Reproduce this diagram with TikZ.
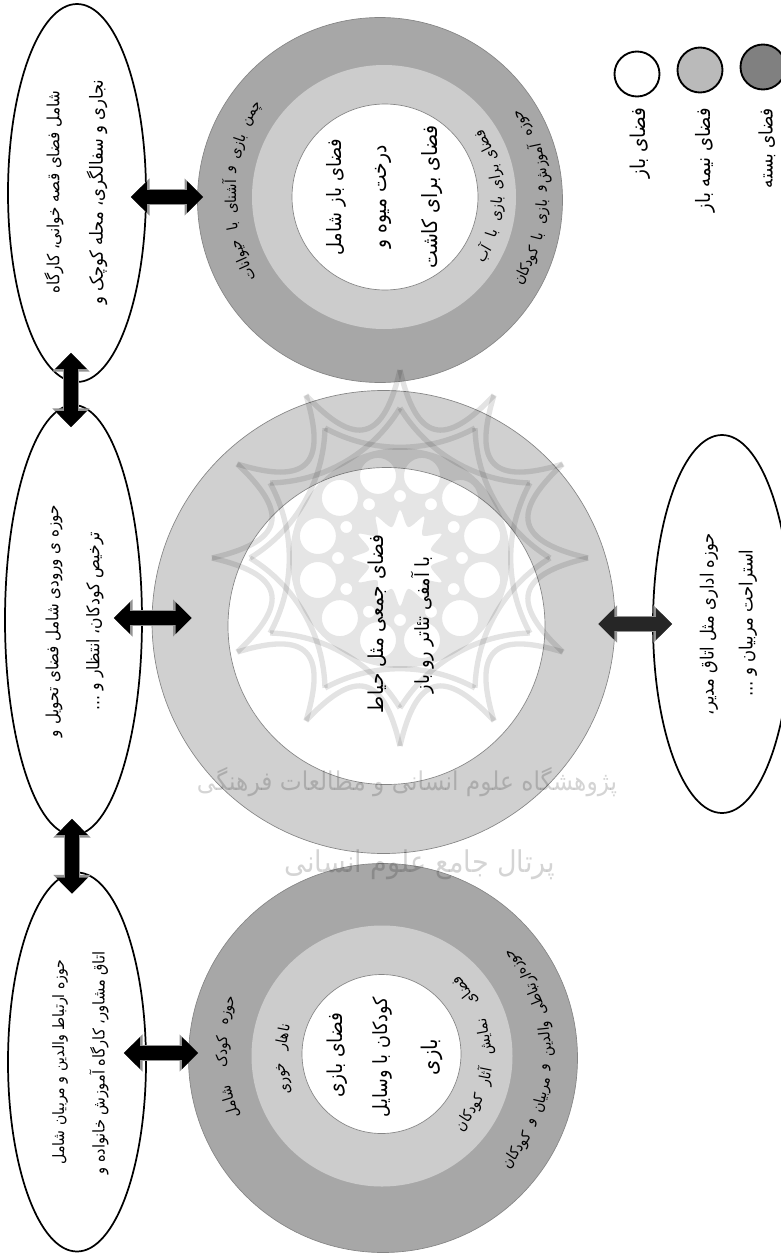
\documentclass[tikz,border=0pt]{standalone}
\usepackage{fontspec}
\usepackage{graphicx}
\usetikzlibrary{shapes.geometric,arrows.meta,calc}
\TeXXeTstate=1
\newfontfamily\arabicfont[Script=Arabic]{DejaVu Sans Condensed}
\newdimen\pxu \pxu=0.75pt
\newcommand\fit[2]{\resizebox{#1\pxu}{!}{\arabicfont #2}}
\newcommand\wrd[1]{{\arabicfont\fontsize{11.3}{13}\selectfont\beginR #1\endR}}
\definecolor{ringdark}{gray}{0.655}
\definecolor{ringmid}{gray}{0.80}
\definecolor{ringsolo}{gray}{0.815}
\definecolor{ringedge}{gray}{0.52}
\tikzset{
  disc/.style={circle,draw=ringedge,line width=0.5pt,inner sep=0pt,minimum size=#1*0.75pt},
  oval/.style={ellipse,draw=black,line width=1.3pt,inner sep=0pt},
  legend disc/.style={circle,draw=black,line width=1.4pt,inner sep=0pt,minimum size=45*0.75pt},
  lab/.style={rotate=90,inner sep=0pt,text=black},
  wmline/.style={draw=black,opacity=0.11,line width=4pt,line join=miter},
  wmfill/.style={fill=black,opacity=0.10,even odd rule},
  wmtext/.style={inner sep=0pt,text=black,opacity=0.17},
  bigarrow/.style={
    preaction={draw=gray!85,line width=11.5pt,
      {Triangle[length=14pt,width=27pt]}-{Triangle[length=14pt,width=27pt]}},
    draw=#1,line width=10pt,
    {Triangle[length=12pt,width=23pt,color=#1]}-{Triangle[length=12pt,width=23pt,color=#1]}},
  bigarrow/.default=black
}
\begin{document}
\begin{tikzpicture}[x=0.75pt,y=-0.75pt]
\useasboundingbox (0,0) rectangle (781,1253);
\clip (0,0) rectangle (781,1253);

% top rings
\node[disc=365,fill=ringdark] (r1o) at (380,200) {};
\node[disc=264,fill=ringmid,draw=none] (r1m) at (384,197) {};
\node[disc=186,fill=white] (r1i) at (385,197) {};
% centre rings
\node[disc=463,fill=ringsolo] (r2o) at (383.5,622) {};
\node[disc=317,fill=white] (r2i) at (386.5,626) {};
% bottom rings
\node[disc=389,fill=ringdark] (r3o) at (383,1058) {};
\node[disc=261,fill=ringmid,draw=none] (r3m) at (382,1056) {};
\node[disc=159,fill=white] (r3i) at (381.5,1054) {};

% watermark rosette
\foreach \k in {0,...,11}{
  \pgfmathsetmacro\a{30*\k}
  \draw[wmline] ({400+188*cos(\a)},{558+188*sin(\a)})
     .. controls ({400+118*cos(\a+8)},{558+118*sin(\a+8)}) and ({400+118*cos(\a+22)},{558+118*sin(\a+22)})
     .. ({400+188*cos(\a+30)},{558+188*sin(\a+30)});
  \draw[wmline] ({400+150*cos(\a)},{558+150*sin(\a)})
     .. controls ({400+108*cos(\a+15)},{558+108*sin(\a+15)}) and ({400+108*cos(\a+45)},{558+108*sin(\a+45)})
     .. ({400+150*cos(\a+60)},{558+150*sin(\a+60)});
}
\fill[wmfill] (400,558) circle[radius=110]
  \foreach \k in {0,...,11}{
    ({400+85*cos(30*\k+15)},{558+85*sin(30*\k+15)}) circle[radius=18]
    ({400+62*cos(30*\k)},{558+62*sin(30*\k)}) circle[radius=6]
  }
  plot[smooth cycle,samples at={0,15,...,345},variable=\t]
    ({400+(48-16*mod(\t/15,2))*cos(\t)},{558+(48-16*mod(\t/15,2))*sin(\t)});
\node[wmtext] (wm1) at (407,782) {\fit{420}{\beginR پژوهشگاه علوم انسانی و مطالعات فرهنگی\endR}};
\node[wmtext] (wm2) at (420,865) {\fit{270}{\beginR پرتال جامع علوم انسانی\endR}};

% ovals
\node[oval,minimum width=138*0.75pt,minimum height=378*0.75pt] (e1) at (77,193) {};
\node[oval,minimum width=137*0.75pt,minimum height=430*0.75pt] (e2) at (73.5,620) {};
\node[oval,minimum width=138*0.75pt,minimum height=379*0.75pt] (e3) at (77,1062) {};
\node[oval,minimum width=138*0.75pt,minimum height=378*0.75pt] (e4) at (722,624) {};

% oval texts
\node[lab] (t1a) at (54,192) {\fit{203}{\beginR شامل فضای قصه خوانی، کارگاه\endR}};
\node[lab] (t1b) at (97,192) {\fit{225}{\beginR نجاری و سفالگری، محله کوچک و\endR}};
\node[lab] (t2a) at (54,621) {\fit{232}{\beginR حوزه ی ورودی شامل فضای تحویل و\endR}};
\node[lab] (t2b) at (95,621) {\fit{178}{\beginR ترخیص کودکان، انتظار و ...\endR}};
\node[lab] (t3a) at (60,1062) {\fit{205}{\beginR حوزه ارتباط والدین و مربیان شامل\endR}};
\node[lab] (t3b) at (99,1063) {\fit{223}{\beginR اتاق مشاور، کارگاه آموزش خانواده و\endR}};
\node[lab] (t4a) at (709,624) {\fit{182}{\beginR حوزه اداری مثل اتاق مدیر،\endR}};
\node[lab] (t4b) at (748,623) {\fit{147}{\beginR استراحت مربیان و ...\endR}};

% ring centre texts
\node[lab] (c1a) at (336,197) {\fit{117}{\beginR فضای باز شامل\endR}};
\node[lab] (c1b) at (383,197) {\fit{103}{\beginR درخت میوه و\endR}};
\node[lab] (c1c) at (432,197) {\fit{143}{\beginR فضای برای کاشت\endR}};
\node[lab] (c2a) at (377,624) {\fit{178}{\beginR فضای جمعی مثل حیاط\endR}};
\node[lab] (c2b) at (423,625) {\fit{136}{\beginR با آمفی تئاتر رو باز\endR}};
\node[lab] (c3a) at (337,1055) {\fit{85}{\beginR فضای بازی\endR}};
\node[lab] (c3b) at (382,1057) {\fit{120}{\beginR کودکان با وسایل\endR}};
\node[lab] (c3c) at (432,1057) {\fit{36}{\beginR بازی\endR}};

% curved ring texts, word by word
\foreach \n/\a/\w in {1/32/چمن,2/19/بازی,3/10.5/و,4/0/آشنای,5/-11/با,6/-24/حیوانات}{
  \node[lab,rotate=-\a] (a\n) at ({385-155*cos(\a)},{197-155*sin(\a)}) {\wrd{\w}};
}
\foreach \n/\a/\w in {1/27/فضای,2/10/برای,3/-6/بازی,4/-18.6/با,5/-30/آب}{
  \node[lab,rotate=\a] (b\n) at ({385+113*cos(\a)},{197-113*sin(\a)}) {\wrd{\w}};
}
\foreach \n/\a/\w in {1/28/حوزه,2/12/آموزش,3/3/و,4/-5.5/بازی,5/-14.5/با,6/-26/کودکان}{
  \node[lab,rotate=\a] (d\n) at ({385+158*cos(\a)},{197-158*sin(\a)}) {\wrd{\w}};
}
\foreach \n/\a/\w in {1/16.5/حوزه,2/1.5/کودک,3/-17/شامل}{
  \node[lab,rotate=-\a] (f\n) at ({381-158*cos(\a)},{1056-158*sin(\a)}) {\wrd{\w}};
}
\foreach \n/\a/\w in {1/11/ناهار,2/-13/خوری}{
  \node[lab,rotate=-\a] (g\n) at ({381-99*cos(\a)},{1056-99*sin(\a)}) {\wrd{\w}};
}
\foreach \n/\a/\w in {1/38/فضای,2/10.5/نمایش,3/-11.5/آثار,4/-33/کودکان}{
  \node[lab,rotate=\a] (h\n) at ({382+105*cos(\a)},{1056-105*sin(\a)}) {\wrd{\w}};
}
\foreach \n/\a/\w in {1/35/حوزه,2/22/ارتباطی,3/6/والدین,4/-4/و,5/-13.7/مربیان,6/-23.5/و,7/-35/کودکان}{
  \node[lab,rotate=\a] (j\n) at ({382+165*cos(\a)},{1056-165*sin(\a)}) {\wrd{\w}};
}

% legend
\node[legend disc,fill=white] (l1) at (637,74) {};
\node[legend disc,fill=black!27] (l2) at (700,70) {};
\node[legend disc,fill=black!50] (l3) at (763,67) {};
\node[lab] (l1t) at (640,143) {\fit{70}{\beginR فضای باز\endR}};
\node[lab] (l2t) at (705,160) {\fit{104}{\beginR فضای نیمه باز\endR}};
\node[lab] (l3t) at (767,148) {\fit{80}{\beginR فضای بسته\endR}};

% connectors
\draw[bigarrow] ([shift={(-16,4)}]e1.east) -- ([shift={(6,-3)}]r1o.west);
\draw[bigarrow] ([shift={(-6,-30)}]e1.south) -- ([shift={(-2.5,23)}]e2.north);
\draw[bigarrow] ([shift={(-1.5,-17)}]e2.south) -- ([shift={(-5,22)}]e3.north);
\draw[bigarrow] ([shift={(-23,-9)}]e3.east) -- ([shift={(10,-5)}]r3o.west);
\draw[bigarrow] ([shift={(-29,-2)}]e2.east) -- ([shift={(40,-4)}]r2o.west);
\draw[bigarrow=black!85] ([shift={(-17,2)}]r2o.east) -- ([shift={(20,0)}]e4.west);
\end{tikzpicture}
\end{document}
